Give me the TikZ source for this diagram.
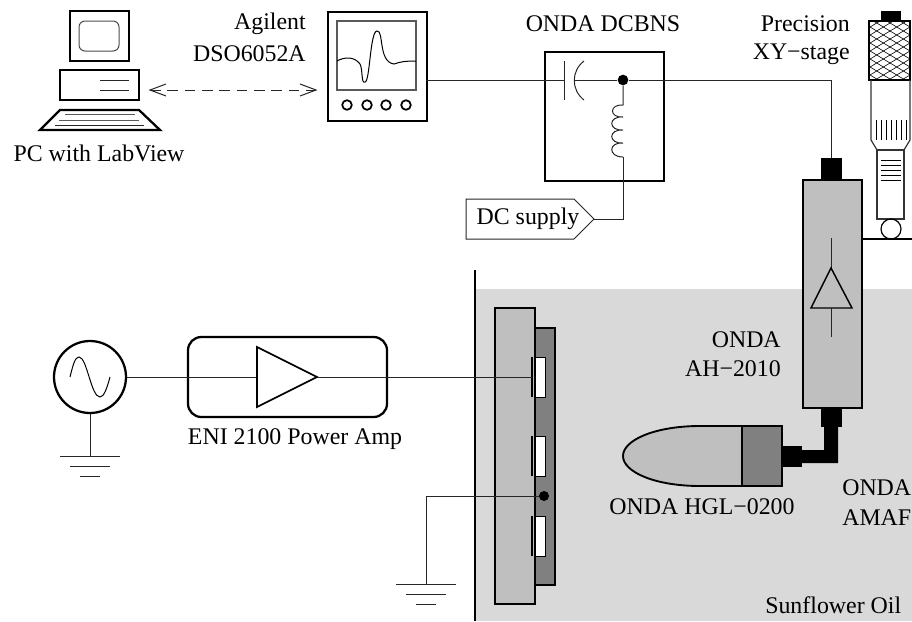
\documentclass[tikz,border=0pt]{standalone}
\usepackage{fontspec}
\setmainfont{Liberation Serif}
\tikzset{
 x=0.75pt,y=-0.75pt,
 thin line/.style={line width=0.75pt,black!85},
 thick line/.style={line width=1.7pt,black},
 label text/.style={inner sep=0pt,font=\fontsize{17.9}{20}\selectfont},
 dot/.style={circle,fill=black,inner sep=0pt,minimum size=#1},
 knob/.style={circle,draw,line width=1.3pt,inner sep=0pt,minimum size=7.2pt},
 ground/.pic={\draw[thin line] (-30,0) -- (30,0) (-20,10) -- (20,10) (-10,20) -- (10,20);},
}
\definecolor{oil}{gray}{0.85}
\definecolor{light}{gray}{0.75}
\definecolor{dark}{gray}{0.5}
\begin{document}
\begin{tikzpicture}
\useasboundingbox (0,0) rectangle (912,621);
% oil
\fill[oil] (475,289) rectangle (912,621);
% PC
\draw[thick line] (70,11) rectangle (129,61);
\draw[thin line,rounded corners=4.5pt,black!70] (79,21) rectangle (119,51);
\draw[thick line] (60,70) rectangle (139,100);
\draw[thin line] (100,80) -- (129,80) (100,90) -- (129,90);
\draw[thick line,line join=miter] (40,130) -- (160,130) -- (139,110) -- (60,110) -- cycle;
\draw[thin line,black!65] (65,114) -- (135,114) (59,120) -- (139,120);
\draw[thin line] (55,125) -- (144,125);
% scope
\node[draw,thick line,minimum width=74.25pt,minimum height=81.75pt,inner sep=0pt,anchor=north west] (scope) at (327,11) {};
\draw[line width=1pt,black!65] (337,21) rectangle (416,90);
\draw[line width=0.75pt] (337,61) .. controls (344,57) and (354,56) .. (360,64) .. controls (363,70) and (361,84) .. (365,82) .. controls (370,82) and (370,31) .. (377,31) .. controls (384,30) and (378,62) .. (394,64) .. controls (400,62) and (404,61) .. (416,61);
\foreach \k/\xx in {a/347,b/367,c/386,d/406} \node[knob] (k\k) at (\xx,105) {};
% dashed
\coordinate (pcport) at (150,90);
\coordinate (scport) at (316,90);
\draw[thin line,dash pattern=on 8pt off 5pt] (pcport) -- (scport);
\draw[thin line] (166,84) -- (150,90) -- (166,96);
\draw[thin line] (300,84) -- (316,90) -- (300,96);
% DCBNS
\node[draw,thick line,minimum width=89.25pt,minimum height=96.75pt,inner sep=0pt,anchor=north west] (bias) at (544,51) {};
\coordinate (scopeout) at (426,80);
\coordinate (capl) at (564,80);
\coordinate (capr) at (574,80);
\coordinate (probein) at (831,159);
\node[dot=8pt] (junction) at (623,80) {};
\draw[thin line] (scopeout) -- (capl);
\draw[thin line] (564,61) -- (564,100);
\draw[thin line] (584,61) .. controls (571,71) and (571,90) .. (584,100);
\draw[thin line] (capr) -- (junction) -- (831,80) -- (probein);
\draw[thin line] (junction) -- (623,105)
  .. controls (609,104) and (609,118) .. (623,117) .. controls (608,116) and (608,131) .. (623,130)
  .. controls (608,129) and (608,144) .. (623,143) .. controls (608,142) and (608,157) .. (623,157);
% DC supply
\coordinate (dcout) at (594,219);
\draw[thin line,fill=white] (466,199) -- (574,199) -- (dcout) -- (574,239) -- (466,239) -- cycle;
\node[label text] (dclabel) at (528,219) {DC supply};
\draw[thin line] (623,157) -- (623,219) -- (dcout);
% preamp
\node[draw,thick line,fill=light,minimum width=44.25pt,minimum height=171pt,inner sep=0pt,anchor=north west] (preamp) at (802,179) {};
\fill (821,158) rectangle (842,179);
\fill (821,407) rectangle (842,427);
\draw[thin line] (831,238) -- (831,268);
\draw[line width=1.1pt,line join=miter] (831,268) -- (852,308) -- (811,308) -- cycle;
\draw[thin line] (831,308) -- (831,337);
% elbow
\fill (824,427) -- (838,427) -- (838,463) -- (802,463) -- (802,450) -- (824,450) -- cycle;
\fill (782,446) rectangle (802,467);
% hydrophone
\draw[line width=1.4pt,fill=light] (742,426) -- (700,426) .. controls (655,426) and (623,440) .. (623,456) .. controls (623,472) and (655,486) .. (700,486) -- (742,486) -- cycle;
\draw[line width=1.4pt,fill=dark] (742,426) rectangle (782,486);
% micrometer
\fill (881,11) rectangle (901,21);
\begin{scope}
\clip (869,21) rectangle (910,80);
\foreach \i in {-8,...,12} {
  \draw[line width=0.45pt] (860,{21+\i*8}) -- (920,{21+\i*8+36});
  \draw[line width=0.45pt] (860,{21+\i*8+36}) -- (920,{21+\i*8});
}
\end{scope}
\draw[line width=0.8pt] (869,21) rectangle (910,80);
\draw[line width=0.9pt,black!80] (871,80) -- (871,140) -- (877,150) -- (904,150) -- (910,140) -- (910,80);
\foreach \xx in {876,881,886,891,896,901,906} \draw[line width=0.6pt] (\xx,120) -- (\xx,140);
\draw[line width=0.9pt,black!80] (877,150) rectangle (904,219);
\foreach \yy in {160,165,170,175,180} \draw[line width=0.7pt] (881,\yy) -- (901,\yy);
\node[circle,draw,line width=0.9pt,inner sep=0pt,minimum size=15pt] (ball) at (891,229) {};
\draw[line width=1.5pt] (861,239) -- (912,239);
% source
\node[circle,draw,thick line,inner sep=0pt,minimum size=54pt] (source) at (90,377) {};
\draw[line width=0.75pt] (70,377) .. controls (73,365) and (75,357) .. (79,357) .. controls (87,357) and (91,397) .. (100,397) .. controls (104,397) and (107,388) .. (110,377);
\coordinate (gndA) at (90,456);
\draw[thin line] (source) -- (gndA);
\pic at (gndA) {ground};
% power amp
\draw[thick line,rounded corners=10pt] (188,337) rectangle (387,417);
\coordinate (ampin) at (257,377);
\coordinate (ampout) at (317,377);
\coordinate (drive) at (532,377);
\draw[thin line] (source) -- (ampin);
\draw[line width=1.3pt,line join=miter] (257,347) -- (ampout) -- (257,407) -- cycle;
% wall
\draw[thick line] (475,270) -- (475,621);
% transducer
\draw[line width=0.9pt,fill=light] (495,308) rectangle (535,604);
\draw[line width=0.9pt,fill=dark] (535,328) rectangle (555,585);
\foreach \yy in {357,436,516} {
  \draw[line width=0.7pt,fill=white] (535,\yy) rectangle (545,\yy+40);
  \draw[line width=1.5pt] (532,\yy) -- (532,\yy+40);
}
\draw[thin line] (ampout) -- (drive);
\node[dot=7.5pt] (plate) at (544,496) {};
\coordinate (gndB) at (426,584);
\draw[thin line] (plate) -- (426,496) -- (gndB);
\pic at (gndB) {ground};
% labels
\node[label text,anchor=east] (agilent) at (306,24) {Agilent};
\node[label text,anchor=east] (dso) at (306,54) {DSO6052A};
\node[label text] (pclabel) at (99,153) {PC with LabView};
\node[label text] (dcbns) at (603,24) {ONDA DCBNS};
\node[label text,anchor=east] (prec) at (850,24) {Precision};
\node[label text,anchor=east] (xy) at (850,54) {XY−stage};
\node[label text,anchor=east] (onda) at (781,340) {ONDA};
\node[label text,anchor=east] (ah) at (781,369) {AH−2010};
\node[label text] (hgl) at (702,507) {ONDA HGL−0200};
\node[label text,anchor=west] (onda2) at (842,488) {ONDA};
\node[label text,anchor=west] (amaf) at (842,518) {AMAF};
\node[label text,anchor=west] (oillabel) at (765,605) {Sunflower Oil};
\node[label text] (eni) at (295,439) {ENI 2100 Power Amp};
\end{tikzpicture}
\end{document}
